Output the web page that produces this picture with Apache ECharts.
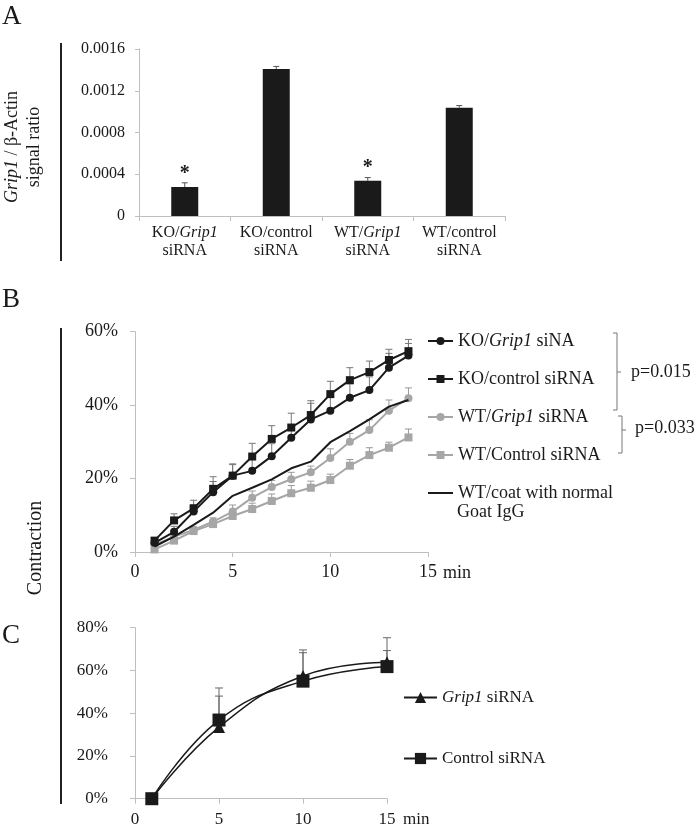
<!DOCTYPE html>
<html>
<head>
<meta charset="utf-8">
<script src="https://cdn.jsdelivr.net/npm/echarts@6/dist/echarts.min.js"></script>
<style>html,body{margin:0;padding:0;background:#fff}#c{width:700px;height:832px}</style>
</head>
<body>
<div id="c"></div>
<script>
// ---------- Panel A ----------
const catsA = ['KO/Grip1 siRNA', 'KO/control siRNA', 'WT/Grip1 siRNA', 'WT/control siRNA'];
const ratioA = [0.000278, 0.001408, 0.000338, 0.001038];
const errA = [0.00004, 0.000025, 0.00003, 0.00002];
const starA = ['*', '', '*', ''];
const ticksA = [0, 0.0004, 0.0008, 0.0012, 0.0016];

// ---------- Panel B (minutes 1..14, % contraction) ----------
const minutesB = [1, 2, 3, 4, 5, 6, 7, 8, 9, 10, 11, 12, 13, 14];
const koGrip1 = [2.5, 5.5, 11.0, 16.3, 20.8, 22.1, 26.1, 31.1, 36.1, 38.5, 42.0, 44.1, 50.2, 53.5];
const koGrip1Err = [0.8, 1.5, 1.8, 2.9, 3.0, 3.2, 3.4, 3.5, 4.4, 4.0, 3.8, 3.6, 3.9, 3.3];
const koCtrl = [3.1, 8.6, 11.9, 17.2, 20.8, 26.0, 30.8, 33.9, 37.3, 43.0, 46.8, 49.0, 52.3, 54.7];
const koCtrlErr = [0.8, 1.8, 2.2, 3.3, 3.2, 3.6, 3.6, 3.9, 3.9, 3.5, 3.4, 3.0, 2.9, 3.2];
const wtGrip1 = [1.9, 4.2, 6.0, 8.3, 11.0, 14.8, 17.7, 19.8, 21.7, 25.6, 30.0, 33.2, 38.5, 41.9];
const wtGrip1Err = [0.6, 0.8, 1.0, 1.0, 1.8, 1.8, 1.8, 1.9, 1.7, 2.5, 2.3, 2.8, 2.9, 2.8];
const wtCtrl = [0.7, 3.1, 5.7, 7.6, 9.8, 11.7, 13.9, 16.0, 17.5, 19.6, 23.5, 26.4, 28.4, 31.2];
const wtCtrlErr = [0.5, 0.8, 0.9, 1.0, 1.2, 1.6, 1.9, 2.1, 1.8, 1.6, 1.7, 2.0, 1.5, 2.3];
const wtCoat = [1.5, 4.2, 7.4, 10.7, 15.3, 17.5, 19.8, 22.8, 24.6, 29.9, 32.9, 36.1, 39.6, 41.4];
const namesB = ['KO/Grip1 siNA', 'KO/control siRNA', 'WT/Grip1 siRNA', 'WT/Control siRNA', 'WT/coat with normal Goat IgG'];

// ---------- Panel C ----------
const minutesC = [1, 5, 10, 15];
const grip1C = [0, 33.5, 57.4, 63.8];
const grip1CErr = [0, 14.5, 12.2, 11.5];
const controlC = [0, 36.8, 55.0, 61.8];
const controlCErr = [0, 15.0, 13.3, 7.5];
const namesC = ['Grip1 siRNA', 'Control siRNA'];

const FONT = 'Liberation Serif';
const TXT = '#1a1a1a';
const AX = '#bfbfbf';
const BLK = '#1a1a1a';
const GRY = '#a6a6a6';

function pair(xs, ys) { return xs.map((x, i) => [x, ys[i]]); }
function triple(xs, ys, es) { return xs.map((x, i) => [x, ys[i], es[i]]); }

function errRender(color, cap) {
  return function (params, api) {
    const x = api.value(0), y = api.value(1), e = api.value(2);
    if (!e) return null;
    const p0 = api.coord([x, y]);
    const p1 = api.coord([x, y + e]);
    return {
      type: 'group',
      children: [
        { type: 'line', shape: { x1: p0[0], y1: p0[1], x2: p1[0], y2: p1[1] }, style: { stroke: color, lineWidth: 1 } },
        { type: 'line', shape: { x1: p1[0] - cap, y1: p1[1], x2: p1[0] + cap, y2: p1[1] }, style: { stroke: color, lineWidth: 1 } }
      ]
    };
  };
}

function errSeries(xi, data, color, cap) {
  return {
    type: 'custom', xAxisIndex: xi, yAxisIndex: xi, data: data,
    encode: { x: 0, y: 1 }, renderItem: errRender(color, cap), z: 1, silent: true
  };
}

const italicRich = (fs) => ({
  i: { fontStyle: 'italic', fontSize: fs, fontFamily: FONT, color: TXT },
  n: { fontSize: fs, fontFamily: FONT, color: TXT }
});

function richName(name) {
  const idx = name.indexOf('Grip1');
  if (idx < 0) return '{n|' + name + '}';
  const pre = name.slice(0, idx), post = name.slice(idx + 5);
  return (pre ? '{n|' + pre + '}' : '') + '{i|Grip1}' + (post ? '{n|' + post + '}' : '');
}

const valAxisCommon = {
  splitLine: { show: false },
  axisLine: { show: true, lineStyle: { color: AX, width: 1 } },
  axisTick: { show: true, length: 5, lineStyle: { color: AX } }
};

const chart = echarts.init(document.getElementById('c'), null, { renderer: 'canvas' });

const option = {
  animation: false,
  backgroundColor: '#fff',
  textStyle: { fontFamily: FONT, color: TXT },
  grid: [
    { left: 139, top: 49, width: 366, height: 167 },
    { left: 135, top: 331.7, width: 293, height: 220.3 },
    { left: 135, top: 627.7, width: 252, height: 171 }
  ],
  xAxis: [
    {
      gridIndex: 0, type: 'category', data: catsA,
      axisLine: { show: true, lineStyle: { color: AX } },
      axisTick: { show: true, length: 5, lineStyle: { color: AX } },
      axisLabel: {
        interval: 0, margin: 8, fontSize: 16, lineHeight: 18, fontFamily: FONT, color: TXT,
        formatter: function (v) {
          const sp = v.lastIndexOf(' ');
          return richName(v.slice(0, sp)) + '\n{n|' + v.slice(sp + 1) + '}';
        },
        rich: {
          i: { fontStyle: 'italic', fontSize: 16, lineHeight: 18, fontFamily: FONT, color: TXT },
          n: { fontSize: 16, lineHeight: 18, fontFamily: FONT, color: TXT }
        }
      }
    },
    Object.assign({}, valAxisCommon, {
      gridIndex: 1, type: 'value', min: 0, max: 15, interval: 5,
      name: 'min', nameLocation: 'end', nameGap: 15,
      nameTextStyle: { fontSize: 18, fontFamily: FONT, color: TXT, verticalAlign: 'top', padding: [12, 0, 0, 0] },
      axisLabel: { margin: 11, fontSize: 18, fontFamily: FONT, color: TXT }
    }),
    Object.assign({}, valAxisCommon, {
      gridIndex: 2, type: 'value', min: 0, max: 15, interval: 5,
      name: 'min', nameLocation: 'end', nameGap: 16,
      nameTextStyle: { fontSize: 17, fontFamily: FONT, color: TXT, verticalAlign: 'top', padding: [12, 0, 0, 0] },
      axisLabel: { margin: 12, fontSize: 17, fontFamily: FONT, color: TXT }
    })
  ],
  yAxis: [
    Object.assign({}, valAxisCommon, {
      gridIndex: 0, type: 'value', min: ticksA[0], max: ticksA[ticksA.length - 1], interval: 0.0004,
      axisTick: { show: true, length: 4, lineStyle: { color: AX } },
      axisLabel: {
        margin: 14, fontSize: 16, fontFamily: FONT, color: TXT,
        formatter: v => (v === 0 ? '0' : v.toFixed(4))
      }
    }),
    Object.assign({}, valAxisCommon, {
      gridIndex: 1, type: 'value', min: 0, max: 60, interval: 20,
      axisLabel: { margin: 17, fontSize: 18, fontFamily: FONT, color: TXT, formatter: '{value}%' }
    }),
    Object.assign({}, valAxisCommon, {
      gridIndex: 2, type: 'value', min: 0, max: 80, interval: 20,
      axisLabel: { margin: 27, fontSize: 17, fontFamily: FONT, color: TXT, formatter: '{value}%' }
    })
  ],
  legend: [
    {
      data: namesB.slice(0, 4).concat([{ name: namesB[4], itemStyle: { opacity: 0 } }]),
      orient: 'vertical', left: 427, top: 331, padding: 0,
      itemWidth: 25, itemHeight: 10, itemGap: 18, selectedMode: false,
      textStyle: { fontSize: 18, lineHeight: 20, fontFamily: FONT, color: TXT, rich: italicRich(18) },
      formatter: function (name) {
        if (name === namesB[4]) return '{n|WT/coat with normal}';
        return richName(name);
      }
    },
    {
      data: namesC, orient: 'vertical', left: 403, top: 688.5, padding: 0,
      itemWidth: 33, itemHeight: 14, itemGap: 43, selectedMode: false,
      textStyle: { fontSize: 17, lineHeight: 18, fontFamily: FONT, color: TXT, rich: italicRich(17) },
      formatter: richName
    }
  ],
  series: [
    // Panel A
    {
      type: 'bar', xAxisIndex: 0, yAxisIndex: 0, data: ratioA, barWidth: 27,
      itemStyle: { color: BLK }, z: 2,
      label: {
        show: true, position: 'top', distance: 3, fontSize: 20, fontWeight: 'bold', fontFamily: FONT, color: TXT,
        formatter: p => starA[p.dataIndex]
      }
    },
    errSeries(0, ratioA.map((v, i) => [i, v, errA[i]]), '#555', 3),
    // Panel B error bars
    errSeries(1, triple(minutesB, wtCtrl, wtCtrlErr), '#999', 3.5),
    errSeries(1, triple(minutesB, wtGrip1, wtGrip1Err), '#999', 3.5),
    errSeries(1, triple(minutesB, koGrip1, koGrip1Err), '#777', 3.5),
    errSeries(1, triple(minutesB, koCtrl, koCtrlErr), '#777', 3.5),
    // Panel B lines
    {
      name: namesB[3], type: 'line', xAxisIndex: 1, yAxisIndex: 1, data: pair(minutesB, wtCtrl),
      symbol: 'rect', symbolSize: 8, color: GRY, lineStyle: { width: 2, color: GRY }, itemStyle: { color: GRY }, z: 3
    },
    {
      name: namesB[2], type: 'line', xAxisIndex: 1, yAxisIndex: 1, data: pair(minutesB, wtGrip1),
      symbol: 'circle', symbolSize: 8, color: GRY, lineStyle: { width: 2, color: GRY }, itemStyle: { color: GRY }, z: 3
    },
    {
      name: namesB[4], type: 'line', xAxisIndex: 1, yAxisIndex: 1, data: pair(minutesB, wtCoat),
      symbol: 'none', color: BLK, lineStyle: { width: 2, color: BLK }, itemStyle: { color: BLK }, z: 4
    },
    {
      name: namesB[0], type: 'line', xAxisIndex: 1, yAxisIndex: 1, data: pair(minutesB, koGrip1),
      symbol: 'circle', symbolSize: 8, color: BLK, lineStyle: { width: 2, color: BLK }, itemStyle: { color: BLK }, z: 5
    },
    {
      name: namesB[1], type: 'line', xAxisIndex: 1, yAxisIndex: 1, data: pair(minutesB, koCtrl),
      symbol: 'rect', symbolSize: 8, color: BLK, lineStyle: { width: 2, color: BLK }, itemStyle: { color: BLK }, z: 5
    },
    // Panel C
    errSeries(2, triple(minutesC, grip1C, grip1CErr), '#666', 4),
    errSeries(2, triple(minutesC, controlC, controlCErr), '#666', 4),
    {
      name: namesC[0], type: 'line', xAxisIndex: 2, yAxisIndex: 2, data: pair(minutesC, grip1C),
      smooth: 0.45, symbol: 'triangle', symbolSize: 12, color: BLK,
      lineStyle: { width: 1.5, color: BLK }, itemStyle: { color: BLK }, z: 5
    },
    {
      name: namesC[1], type: 'line', xAxisIndex: 2, yAxisIndex: 2, data: pair(minutesC, controlC),
      smooth: 0.45, symbol: 'rect', symbolSize: 13, color: BLK,
      lineStyle: { width: 1.5, color: BLK }, itemStyle: { color: BLK }, z: 5
    }
  ],
  graphic: [
    { type: 'text', left: 2, top: 3, style: { text: 'A', fontSize: 27, fontFamily: FONT, fill: TXT } },
    { type: 'text', left: 2, top: 286, style: { text: 'B', fontSize: 27, fontFamily: FONT, fill: TXT } },
    { type: 'text', left: 2, top: 622, style: { text: 'C', fontSize: 27, fontFamily: FONT, fill: TXT } },
    { type: 'line', shape: { x1: 61, y1: 43, x2: 61, y2: 261 }, style: { stroke: '#222', lineWidth: 2 } },
    { type: 'line', shape: { x1: 61, y1: 328, x2: 61, y2: 804 }, style: { stroke: '#222', lineWidth: 2 } },
    {
      type: 'text', x: 23, y: 147, rotation: Math.PI / 2,
      style: {
        text: '{i|Grip1}{n| / β-Actin}\n{n|signal ratio}', align: 'center', verticalAlign: 'middle',
        fontSize: 18, fontFamily: FONT, fill: TXT,
        rich: {
          i: { fontStyle: 'italic', fontSize: 18, lineHeight: 22, fontFamily: FONT, fill: TXT },
          n: { fontSize: 18, lineHeight: 22, fontFamily: FONT, fill: TXT }
        }
      }
    },
    {
      type: 'text', x: 36, y: 548, rotation: Math.PI / 2,
      style: { text: 'Contraction', align: 'center', verticalAlign: 'middle', fontSize: 20, fontFamily: FONT, fill: TXT }
    },
    { type: 'text', left: 457, top: 503, style: { text: 'Goat IgG', fontSize: 18, fontFamily: FONT, fill: TXT } },
    { type: 'polyline', shape: { points: [[613, 333], [617, 333], [617, 410], [613, 410]] }, style: { stroke: '#777', lineWidth: 1, fill: null } },
    { type: 'line', shape: { x1: 617, y1: 372, x2: 621, y2: 372 }, style: { stroke: '#777', lineWidth: 1 } },
    { type: 'polyline', shape: { points: [[618, 416], [622, 416], [622, 453], [618, 453]] }, style: { stroke: '#777', lineWidth: 1, fill: null } },
    { type: 'line', shape: { x1: 622, y1: 430, x2: 626, y2: 430 }, style: { stroke: '#777', lineWidth: 1 } },
    { type: 'text', left: 631, top: 363, style: { text: 'p=0.015', fontSize: 18, fontFamily: FONT, fill: TXT } },
    { type: 'text', left: 635, top: 419, style: { text: 'p=0.033', fontSize: 18, fontFamily: FONT, fill: TXT } }
  ]
};

chart.setOption(option);
</script>
</body>
</html>
